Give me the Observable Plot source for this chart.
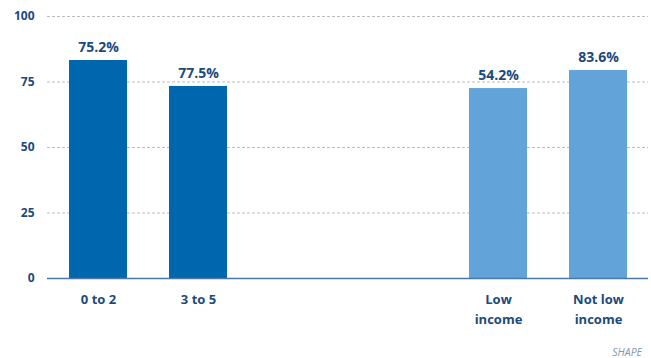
<!DOCTYPE html>
<html>
<head>
<meta charset="utf-8">
<script src="https://cdn.jsdelivr.net/npm/d3@7"></script>
<script src="https://cdn.jsdelivr.net/npm/@observablehq/plot@0.6"></script>
<style>
  html, body { margin: 0; padding: 0; background: #fff; }
  #wrap { width: 651px; height: 358px; position: relative; }
  #caption { position: absolute; right: 9px; top: 345px; font: italic 10.5px "Open Sans", sans-serif; color: #7f97b2; line-height: 14px; }
</style>
</head>
<body>
<div id="wrap"><div id="chart"></div><div id="caption">SHAPE</div></div>
<script>
const categories = ["0 to 2", "3 to 5", "Low\nincome", "Not low\nincome"];
const groups = ["age", "age", "income", "income"];
const barHeights = [83.2, 73.3, 72.5, 79.4];
const valueLabels = ["75.2%", "77.5%", "54.2%", "83.6%"];
const gapSlots = ["gap1", "gap2"];
const yTicks = [0, 25, 50, 75, 100];

const xDomain = [categories[0], categories[1], ...gapSlots, categories[2], categories[3]];
const data = categories.map((c, i) => ({cat: c, group: groups[i], h: barHeights[i], label: valueLabels[i]}));

const textColor = "#1b4a7c";
const font = "'Open Sans', sans-serif";

const chart = Plot.plot({
  width: 651,
  height: 358,
  marginTop: 16,
  marginBottom: 80,
  marginLeft: 47,
  marginRight: 3,
  style: {fontFamily: font, background: "transparent"},
  x: {domain: xDomain, paddingInner: 0.42, paddingOuter: 0.21, axis: null},
  y: {domain: [0, 100], axis: null},
  color: {domain: ["age", "income"], range: ["#0066ae", "#62a3d9"]},
  marks: [
    Plot.ruleY(yTicks.filter(d => d > 0), {stroke: "#bdbdbd", strokeDasharray: "3,2", strokeWidth: 1}),
    Plot.barY(data, {x: "cat", y: "h", fill: "group"}),
    Plot.ruleY([0], {stroke: "#4a78a8", strokeWidth: 1.5}),
    Plot.text(data, {x: "cat", y: "h", text: "label", dy: -13, fill: textColor, fontWeight: "bold", fontSize: 14}),
    Plot.axisY({ticks: yTicks, tickSize: 0, tickPadding: 13, fontSize: 12, fontWeight: "bold", color: textColor, label: null}),
    Plot.axisX({ticks: categories, tickSize: 0, tickPadding: 12, fontSize: 13, fontWeight: "bold", color: textColor, lineHeight: 1.5, label: null})
  ]
});
document.getElementById("chart").appendChild(chart);
</script>
</body>
</html>
